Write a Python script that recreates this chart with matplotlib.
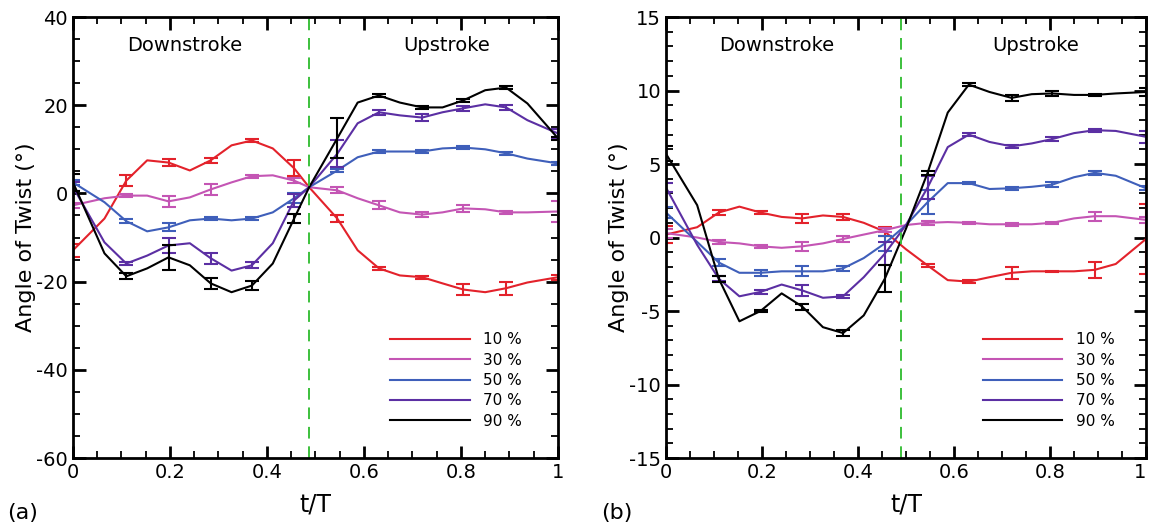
import numpy as np
import matplotlib
matplotlib.use("Agg")
import matplotlib.pyplot as plt
from matplotlib.ticker import MultipleLocator

plt.rcParams["axes.unicode_minus"] = False

# --- data ---
t_a = [0, 0.065, 0.11, 0.153, 0.197, 0.241, 0.284, 0.327, 0.369, 0.412, 0.456, 0.487,
       0.545, 0.587, 0.631, 0.674, 0.72, 0.762, 0.805, 0.85, 0.893, 0.937, 1.0]
t_b = [0, 0.065, 0.11, 0.153, 0.197, 0.241, 0.284, 0.327, 0.369, 0.412, 0.456, 0.50,
       0.545, 0.587, 0.631, 0.674, 0.72, 0.762, 0.805, 0.85, 0.893, 0.937, 1.0]

labels = ["10 %", "30 %", "50 %", "70 %", "90 %"]
colors = ["#e3222b", "#c455b4", "#3f5fba", "#5b2fa3", "#000000"]

# panel (a)
red_a = [-12.9, -5.7, 2.9, 7.5, 7.0, 5.2, 7.5, 10.9, 12.0, 10.2, 5.7, 1.4,
         -5.7, -12.9, -17.0, -18.6, -19.0, -20.4, -21.8, -22.4, -21.5, -20.2, -19.0]
pink_a = [-2.7, -1.1, -0.5, -0.5, -1.8, -0.9, 0.9, 2.5, 3.9, 4.1, 2.9, 1.4,
          0.7, -1.1, -2.7, -4.3, -4.8, -4.3, -3.4, -3.6, -4.3, -4.3, -4.1]
blue_a = [2.5, -2.0, -6.3, -8.6, -7.7, -6.1, -5.7, -6.1, -5.7, -4.3, -1.1, 1.4,
          5.2, 8.2, 9.5, 9.5, 9.5, 10.2, 10.4, 10.0, 9.1, 7.9, 6.8]
purple_a = [1.5, -11.1, -15.9, -14.1, -11.8, -11.3, -14.7, -17.5, -16.3, -11.3, -1.6, 1.4,
            9.0, 15.9, 18.4, 17.7, 17.2, 18.4, 19.3, 20.2, 19.5, 16.6, 13.6]
black_a = [2.5, -13.6, -18.8, -17.0, -14.5, -16.3, -20.4, -22.4, -20.9, -15.9, -5.7, 1.4,
           12.5, 20.6, 22.2, 20.6, 19.5, 19.5, 21.1, 23.4, 24.0, 20.4, 12.5]
# error half-widths at every second sample
red_a_err = [1.5, 1.2, 0.8, 0.6, 0.4, 1.8, 0.8, 0.3, 0.3, 1.2, 1.5, 0.6]
pink_a_err = [0.5, 0.3, 1.2, 1.3, 0.3, 0.5, 0.7, 0.9, 0.5, 0.8, 0.4, 2.3]
blue_a_err = [0.6, 0.5, 0.9, 0.4, 0.3, 1.1, 0.4, 0.4, 0.3, 0.3, 0.3, 0.3]
purple_a_err = [1.0, 0.4, 1.7, 1.3, 0.7, 1.5, 3.0, 0.6, 0.8, 0.6, 0.6, 1.1]
black_a_err = [2.0, 0.7, 2.8, 1.2, 1.0, 1.0, 4.5, 0.3, 0.3, 0.4, 0.3, 0.3]

# panel (b)
red_b = [0.2, 0.7, 1.7, 2.1, 1.7, 1.4, 1.3, 1.5, 1.4, 1.0, 0.4, -0.8,
         -1.9, -2.9, -3.0, -2.7, -2.4, -2.3, -2.3, -2.3, -2.2, -1.8, -0.1]
pink_b = [0.3, 0.0, -0.3, -0.4, -0.6, -0.7, -0.6, -0.4, -0.1, 0.2, 0.5, 0.85,
          1.0, 1.05, 1.0, 0.9, 0.9, 0.9, 1.0, 1.3, 1.45, 1.45, 1.2]
blue_b = [1.7, -0.3, -1.7, -2.4, -2.4, -2.3, -2.3, -2.3, -2.1, -1.4, -0.4, 0.85,
          2.4, 3.7, 3.7, 3.3, 3.35, 3.45, 3.6, 4.1, 4.4, 4.2, 3.35]
purple_b = [3.4, -0.5, -2.8, -4.0, -3.7, -3.2, -3.6, -4.1, -4.0, -2.7, -1.1, 0.85,
            3.4, 6.15, 7.0, 6.5, 6.2, 6.4, 6.7, 7.1, 7.3, 7.25, 6.85]
black_b = [5.7, 2.2, -2.8, -5.7, -5.0, -3.8, -4.7, -6.1, -6.5, -5.3, -2.8, 0.6,
           4.4, 8.5, 10.4, 9.9, 9.5, 9.75, 9.8, 9.7, 9.7, 9.8, 9.9]
red_b_err = [0.6, 0.15, 0.1, 0.3, 0.2, 0.3, 0.1, 0.1, 0.4, 0.05, 0.55, 2.4]
pink_b_err = [0.3, 0.15, 0.1, 0.3, 0.2, 0.15, 0.15, 0.05, 0.1, 0.05, 0.3, 0.2]
blue_b_err = [0.35, 0.25, 0.2, 0.35, 0.15, 0.5, 0.8, 0.05, 0.1, 0.15, 0.15, 0.15]
purple_b_err = [0.3, 0.15, 0.15, 0.4, 0.1, 0.8, 0.8, 0.1, 0.1, 0.15, 0.1, 0.4]
black_b_err = [0.5, 0.2, 0.1, 0.2, 0.2, 0.9, 0.15, 0.1, 0.2, 0.15, 0.05, 0.3]

series_a = [(red_a, red_a_err), (pink_a, pink_a_err), (blue_a, blue_a_err),
            (purple_a, purple_a_err), (black_a, black_a_err)]
series_b = [(red_b, red_b_err), (pink_b, pink_b_err), (blue_b, blue_b_err),
            (purple_b, purple_b_err), (black_b, black_b_err)]


fig = plt.figure(figsize=(11.49, 5.25), dpi=100)
ax_a = fig.add_axes([0.0635, 0.1276, 0.4221, 0.84])
ax_b = fig.add_axes([0.5796, 0.1276, 0.4178, 0.84])


def draw_panel(ax, t, series, ylim, ymajor, yminor, split, tag, leg_x):
    t = np.array(t)
    for (vals, err), c, lab in zip(series, colors, labels):
        ax.plot(t, vals, color=c, lw=1.5, label=lab)
        ax.errorbar(t[::2], np.array(vals)[::2], yerr=err, fmt="none",
                    ecolor=c, elinewidth=1.5, capsize=5, capthick=1.5)
    ax.axvline(split, color="#3cc03c", lw=1.4, ls=(0, (6, 4)))
    ax.set_xlim(0, 1)
    ax.set_ylim(*ylim)
    ax.xaxis.set_minor_locator(MultipleLocator(0.05))
    ax.yaxis.set_major_locator(MultipleLocator(ymajor))
    ax.yaxis.set_minor_locator(MultipleLocator(yminor))
    ax.set_xticks([0, 0.2, 0.4, 0.6, 0.8, 1.0])
    ax.set_xticklabels(["0", "0.2", "0.4", "0.6", "0.8", "1"])
    ax.tick_params(which="both", direction="in", top=True, right=True,
                   labelsize=14, width=1.3)
    ax.tick_params(which="major", length=9, width=2)
    ax.tick_params(which="minor", length=5)
    for s in ax.spines.values():
        s.set_linewidth(2)
    ax.set_xlabel("t/T", fontsize=17, labelpad=8)
    ax.set_ylabel("Angle of Twist (°)", fontsize=16, labelpad=0)
    ax.text(0.23, 0.935, "Downstroke", transform=ax.transAxes,
            ha="center", va="center", fontsize=14)
    ax.text(0.77, 0.935, "Upstroke", transform=ax.transAxes,
            ha="center", va="center", fontsize=14)
    ax.text(-0.135, -0.125, tag, transform=ax.transAxes, fontsize=16,
            ha="left", va="center")
    ax.legend(loc="upper left", bbox_to_anchor=(leg_x, 0.285), frameon=False,
              fontsize=11, handlelength=5.2, handletextpad=0.9,
              labelspacing=0.35, borderpad=0, borderaxespad=0)


draw_panel(ax_a, t_a, series_a, (-60, 40), 20, 5, 0.487, "(a)", 0.654)
draw_panel(ax_b, t_b, series_b, (-15, 15), 5, 1, 0.49, "(b)", 0.66)

# keep the last x label of the right panel inside the figure
ax_b.get_xticklabels()[-1].set_horizontalalignment("right")

fig.savefig("out.png", dpi=100)
